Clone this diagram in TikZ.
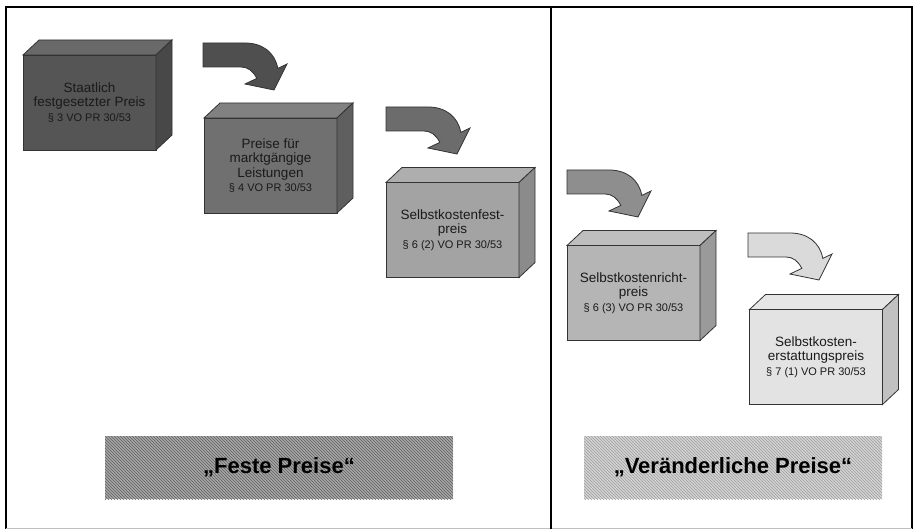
\documentclass[tikz,border=0pt]{standalone}
\usepackage{fontspec}
\setmainfont{Liberation Sans}
\usepackage{xcolor}
\usepackage{tikz}
\usetikzlibrary{calc, patterns}

\definecolor{boxA}{HTML}{555555}
\definecolor{boxB}{HTML}{707070}
\definecolor{boxC}{HTML}{A3A3A3}
\definecolor{boxD}{HTML}{B5B5B5}
\definecolor{boxE}{HTML}{E3E3E3}
\definecolor{arrA}{HTML}{4F4F4F}
\definecolor{arrB}{HTML}{6C6C6C}
\definecolor{arrC}{HTML}{8E8E8E}
\definecolor{arrD}{HTML}{DADADA}
\definecolor{inkgray}{HTML}{1A1A1A}

% top and side face of a box node
\newcommand{\boxfaces}[2]{%
  \draw[boxline, fill=#2!88!white] (#1.north west) -- ++(16,-15) -- ($(#1.north east)+(16,-15)$) -- (#1.north east) -- cycle;
  \draw[boxline, fill=#2!85!black] (#1.north east) -- ++(16,-15) -- ($(#1.south east)+(16,-15)$) -- (#1.south east) -- cycle;}
\newcommand{\vo}[1]{{\fontsize{11}{13}\selectfont \S~#1 VO PR 30/53}}

\begin{document}
\begin{tikzpicture}[x=1pt, y=-1pt,
        boxline/.style={draw=black!80, line width=0.8pt},
        pricebox/.style={boxline, rectangle, outer sep=0pt, minimum width=133, minimum height=95,
            align=center, text=inkgray, font=\fontsize{13.5}{14.5}\selectfont},
        kindbox/.style={rectangle, outer sep=0pt, minimum width=348, minimum height=63,
            font=\bfseries\fontsize{22}{26}\selectfont, pattern=north west lines},
        bentarrow/.pic={
            \draw[boxline, pic actions] (0,0) -- (42,0) .. controls (60,0) and (72,10) .. (74.8,25.4)
                -- (84,21) -- (71,47) -- (42,41) -- (53.8,35.4)
                .. controls (50,28) and (45,24) .. (38,24) -- (0,24) -- cycle;
        }]
        \useasboundingbox (0,0) rectangle (915,529);

        % --- Frame ---
        \draw[black, line width=2pt] (6,529) -- (6,7) -- (912,7) -- (912,529);
        \draw[black!25, line width=0.8pt] (6,528) -- (912,528);
        \draw[black, line width=2pt] (551,7) -- (551,529);

        % --- Boxes ---
        \node[pricebox, fill=boxA] (staat) at (89.5,102.5)
            {Staatlich\\festgesetzter Preis\\\vo{3}};
        \boxfaces{staat}{boxA}
        \node[pricebox, fill=boxB] (markt) at (270.5,165.5)
            {Preise f\"ur\\marktg\"angige\\Leistungen\\\vo{4}};
        \boxfaces{markt}{boxB}
        \node[pricebox, fill=boxC] (fest) at (452.5,230)
            {Selbstkostenfest-\\preis\\\vo{6 (2)}};
        \boxfaces{fest}{boxC}
        \node[pricebox, fill=boxD] (richt) at (633.5,293)
            {Selbstkostenricht-\\preis\\\vo{6 (3)}};
        \boxfaces{richt}{boxD}
        \node[pricebox, fill=boxE] (erstatt) at (816,357)
            {Selbstkosten-\\erstattungspreis\\\vo{7 (1)}};
        \boxfaces{erstatt}{boxE}

        % --- Arrows ---
        \pic[fill=arrA] at (203,43) {bentarrow};
        \pic[fill=arrB] at (386,107) {bentarrow};
        \pic[fill=arrC] at (567,170) {bentarrow};
        \pic[fill=arrD] at (748,233) {bentarrow};

        % --- Kinds of price ---
        \node[kindbox, preaction={fill=black!35}, pattern color=black!62] (feste) at (279,467.5)
            {\quotedblbase Feste Preise\textquotedblleft};
        \node[kindbox, minimum width=298, preaction={fill=black!17}, pattern color=black!38] (veraend) at (733,467.5)
            {\quotedblbase Ver\"anderliche Preise\textquotedblleft};
\end{tikzpicture}
\end{document}
